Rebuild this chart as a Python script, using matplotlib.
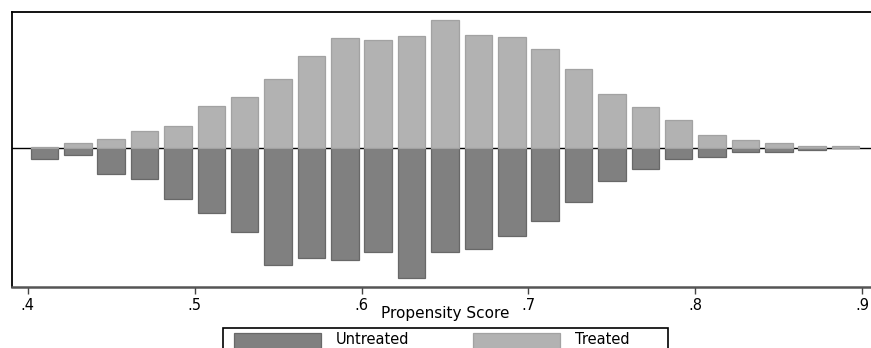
import matplotlib
matplotlib.use("Agg")
import matplotlib.pyplot as plt
from matplotlib.patches import Rectangle

# Propensity score bin centres (bin width .02)
bin_centers = [0.41, 0.43, 0.45, 0.47, 0.49, 0.51, 0.53, 0.55, 0.57, 0.59,
               0.61, 0.63, 0.65, 0.67, 0.69, 0.71, 0.73, 0.75, 0.77, 0.79,
               0.81, 0.83, 0.85, 0.87, 0.89]

# Bar heights (arbitrary density units), treated plotted upward
treated = [1.6, 5.3, 9.3, 17.0, 22.0, 42.6, 51.6, 69.3, 92.6, 110.3,
           108.0, 112.0, 128.3, 113.3, 111.6, 99.0, 79.6, 54.0, 41.3, 28.6,
           13.0, 8.0, 5.3, 2.0, 2.0]

# Untreated plotted downward
untreated = [10.4, 6.7, 25.7, 31.0, 50.4, 64.4, 83.4, 117.0, 109.4, 111.7,
             104.0, 129.4, 104.0, 100.4, 87.4, 73.0, 54.0, 32.4, 20.7, 10.7,
             9.0, 4.0, 4.0, 1.7, 0.0]

xticks = [0.4, 0.5, 0.6, 0.7, 0.8, 0.9]
xtick_labels = [".4", ".5", ".6", ".7", ".8", ".9"]
legend_labels = ["Untreated", "Treated"]

W, H = 871, 348
plt.rcParams["font.family"] = ["DejaVu Sans"]
fig = plt.figure(figsize=(W / 100, H / 100), dpi=100)


def fx(px):
    return px / W


def fy(py):
    # py measured from the top edge of the figure
    return (H - py) / H


ax_left, ax_right, ax_top, ax_bottom = 12, 878, 12, 287
ax = fig.add_axes([fx(ax_left), fy(ax_bottom),
                   (ax_right - ax_left) / W, (ax_bottom - ax_top) / H])

dark_face, dark_edge = "#808080", "#686868"
light_face, light_edge = "#b2b2b2", "#a2a2a2"
bar_w = 0.0165

ax.axhline(0, color="black", lw=1.0, zorder=1)
ax.bar(bin_centers, [-v for v in untreated], width=bar_w, color=dark_face,
       edgecolor=dark_edge, linewidth=0.9, zorder=2)
ax.bar(bin_centers, treated, width=bar_w, color=light_face,
       edgecolor=light_edge, linewidth=0.9, zorder=2)

ax.set_xlim(0.3906, 0.9094)
ax.set_ylim(-138.7, 136.3)
ax.set_yticks([])
ax.set_xticks(xticks)
ax.set_xticklabels(xtick_labels, fontsize=10.5)
ax.tick_params(axis="x", direction="out", length=5, width=1.0,
               color="#444444", pad=3)

for side in ("top", "left"):
    ax.spines[side].set_color("black")
    ax.spines[side].set_linewidth(1.3)
ax.spines["right"].set_visible(False)
ax.spines["bottom"].set_color("#555555")
ax.spines["bottom"].set_linewidth(1.8)

ax.set_xlabel("Propensity Score", fontsize=11)
ax.xaxis.set_label_coords(0.5, -(306 - ax_bottom) / (ax_bottom - ax_top))

# Legend: framed key running off the bottom edge
frame_left, frame_right, frame_top = 223.3, 667.7, 327.7
fig.patches.append(Rectangle((fx(frame_left), fy(H + 10)),
                             fx(frame_right - frame_left), (H + 10 - frame_top) / H,
                             transform=fig.transFigure, facecolor="white",
                             edgecolor="black", linewidth=1.2))
key_specs = [(233.5, 321.0, 335.7, dark_face, dark_edge),
             (473.3, 560.0, 575.0, light_face, light_edge)]
for label, (k0, k1, tx, fc, ec) in zip(legend_labels, key_specs):
    fig.patches.append(Rectangle((fx(k0), fy(H + 5)), fx(k1 - k0), (H + 5 - 333.3) / H,
                                 transform=fig.transFigure, facecolor=fc,
                                 edgecolor=ec, linewidth=0.9))
    fig.text(fx(tx), fy(344.0), label, fontsize=10.5, ha="left", va="baseline")

fig.savefig("out.png", dpi=100)
